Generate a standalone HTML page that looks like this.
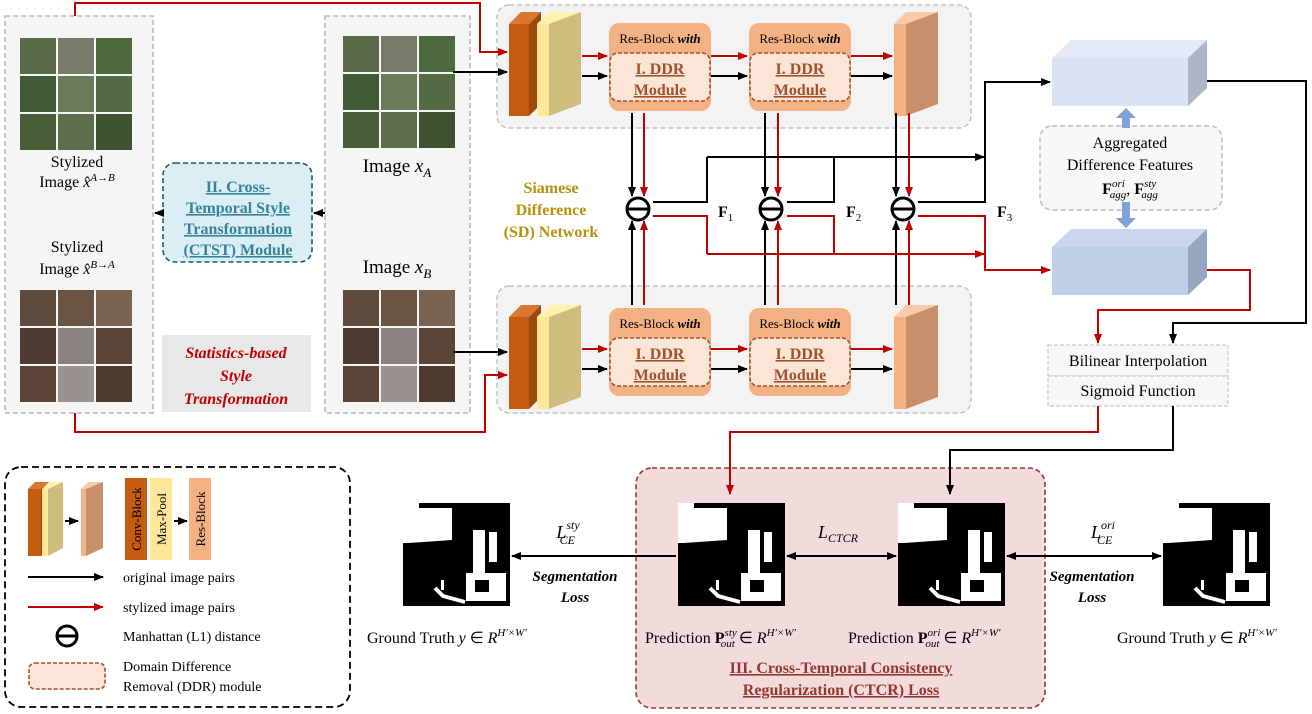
<!DOCTYPE html>
<html><head><meta charset="utf-8"><style>
body{margin:0;background:#fff}
svg{display:block}
text{font-family:"Liberation Serif",serif;}
</style></head><body>
<svg width="1312" height="714" viewBox="0 0 1312 714" xmlns="http://www.w3.org/2000/svg">
<defs>
<marker id="ab" markerWidth="10" markerHeight="10" refX="9" refY="5" orient="auto" markerUnits="userSpaceOnUse"><path d="M0,1 L10,5 L0,9 z" fill="#000"/></marker>
<marker id="ar" markerWidth="10" markerHeight="10" refX="9" refY="5" orient="auto" markerUnits="userSpaceOnUse"><path d="M0,1 L10,5 L0,9 z" fill="#c00000"/></marker>
<marker id="abs" markerWidth="10" markerHeight="10" refX="1" refY="5" orient="auto" markerUnits="userSpaceOnUse"><path d="M10,1 L0,5 L10,9 z" fill="#000"/></marker>
<g id="conv">
<polygon points="0,20 12,8 32,8 20,20" fill="#d9782f"/>
<rect x="0" y="20" width="20" height="92" fill="#c55a11"/>
<polygon points="20,20 32,8 32,100 20,112" fill="#9c4a0e"/>
<polygon points="28,20 40,8 72,8 60,20" fill="#fff2b0"/>
<rect x="28" y="20" width="12" height="92" fill="#ffe699"/>
<polygon points="40,20 72,8 72,100 40,112" fill="#cfbd80"/>
</g>
<g id="slab">
<polygon points="0,20 12,8 44,8 32,20" fill="#f8cbad"/>
<rect x="0" y="20" width="12" height="92" fill="#f4b183"/>
<polygon points="12,20 44,8 44,100 12,112" fill="#c8906a"/>
</g>
<g id="rb">
<rect x="0" y="0" width="102" height="88" rx="10" fill="#f4b183"/>
<rect x="1" y="30" width="100" height="48" rx="8" fill="#fbe5d6" stroke="#a0522d" stroke-width="1.6" stroke-dasharray="4,2"/>
<text x="51" y="20" font-size="13" text-anchor="middle">Res-Block <tspan font-weight="bold" font-style="italic">with</tspan></text>
<text x="51" y="51" font-size="16" font-weight="bold" fill="#a0522d" text-anchor="middle" text-decoration="underline">I. DDR</text>
<text x="51" y="72" font-size="16" font-weight="bold" fill="#a0522d" text-anchor="middle" text-decoration="underline">Module</text>
</g>
<g id="tiles">
<rect x="0" y="0" width="36" height="36" fill="#5b6b4a"/><rect x="38" y="0" width="36" height="36" fill="#7a7a6a"/><rect x="76" y="0" width="36" height="36" fill="#4d6a3e"/>
<rect x="0" y="38" width="36" height="36" fill="#3f5a35"/><rect x="38" y="38" width="36" height="36" fill="#6a7a58"/><rect x="76" y="38" width="36" height="36" fill="#556b45"/>
<rect x="0" y="76" width="36" height="36" fill="#4a5e3a"/><rect x="38" y="76" width="36" height="36" fill="#5f6e4c"/><rect x="76" y="76" width="36" height="36" fill="#3e5230"/>
</g>
<g id="tilesb">
<rect x="0" y="0" width="36" height="36" fill="#5e4a3c"/><rect x="38" y="0" width="36" height="36" fill="#6b5444"/><rect x="76" y="0" width="36" height="36" fill="#7a6350"/>
<rect x="0" y="38" width="36" height="36" fill="#4e3c32"/><rect x="38" y="38" width="36" height="36" fill="#8a8280"/><rect x="76" y="38" width="36" height="36" fill="#5a4538"/>
<rect x="0" y="76" width="36" height="36" fill="#5c4536"/><rect x="38" y="76" width="36" height="36" fill="#9a9290"/><rect x="76" y="76" width="36" height="36" fill="#4e3a2e"/>
</g>
<g id="mask">
<rect x="0" y="3" width="107" height="103" fill="#000"/>
<polygon points="0,3 16,3 16,8 49,8 49,40 6,43 0,43" fill="#fff"/>
<rect x="70" y="30" width="12" height="50" fill="#fff"/>
<rect x="86" y="32" width="8" height="30" fill="#fff"/>
<rect x="63" y="73" width="40" height="28" fill="#fff"/>
<rect x="72" y="80" width="14" height="12" fill="#000"/>
<path d="M32,88 L40,96 L62,102" stroke="#fff" stroke-width="4" fill="none"/>
<rect x="38" y="80" width="3" height="10" fill="#fff"/>
</g>
</defs>

<!-- left panels -->
<rect x="5" y="16" width="148" height="397" fill="#f5f5f5" stroke="#aaa" stroke-dasharray="5,3" stroke-width="1.3"/>
<rect x="325" y="16" width="145" height="397" fill="#f5f5f5" stroke="#aaa" stroke-dasharray="5,3" stroke-width="1.3"/>
<use href="#tiles" x="20" y="38"/>
<use href="#tilesb" x="20" y="290"/>
<use href="#tiles" x="343" y="36"/>
<use href="#tilesb" x="343" y="290"/>
<text x="77" y="167" font-size="16" text-anchor="middle">Stylized</text>
<text x="77" y="187" font-size="16" text-anchor="middle">Image <tspan font-style="italic">x̂</tspan><tspan font-size="11" dy="-6" font-style="italic">A→B</tspan></text>
<text x="77" y="252" font-size="16" text-anchor="middle">Stylized</text>
<text x="77" y="274" font-size="16" text-anchor="middle">Image <tspan font-style="italic">x̂</tspan><tspan font-size="11" dy="-6" font-style="italic">B→A</tspan></text>
<text x="397" y="172" font-size="19" text-anchor="middle">Image <tspan font-style="italic">x</tspan><tspan font-size="13" dy="5" font-style="italic">A</tspan></text>
<text x="397" y="273" font-size="19" text-anchor="middle">Image <tspan font-style="italic">x</tspan><tspan font-size="13" dy="5" font-style="italic">B</tspan></text>
<rect x="163" y="163" width="149" height="99" rx="12" fill="#dbeef3" stroke="#215868" stroke-dasharray="5,3" stroke-width="1.6"/>
<g font-size="16" font-weight="bold" fill="#31849b" text-anchor="middle" text-decoration="underline">
<text x="238" y="192">II. Cross-</text><text x="238" y="213">Temporal Style</text><text x="238" y="234">Transformation</text><text x="238" y="255">(CTST) Module</text></g>
<rect x="162" y="335" width="149" height="77" fill="#e8e8e8"/>
<g font-size="16" font-weight="bold" font-style="italic" fill="#c00000" text-anchor="middle">
<text x="236" y="358">Statistics-based</text><text x="236" y="381">Style</text><text x="236" y="404">Transformation</text></g>
<line x1="325" y1="213" x2="314" y2="213" stroke="#000" stroke-width="2" marker-end="url(#ab)"/>
<line x1="163" y1="213" x2="155" y2="213" stroke="#000" stroke-width="2" marker-end="url(#ab)"/>

<!-- SD panels -->
<rect x="497" y="5" width="474" height="123" rx="12" fill="#f3f3f3" stroke="#bbb" stroke-dasharray="5,3" stroke-width="1.3"/>
<rect x="497" y="286" width="474" height="127" rx="12" fill="#f3f3f3" stroke="#bbb" stroke-dasharray="5,3" stroke-width="1.3"/>

<polyline points="75,16 75,3 480,3 480,52 507,52" fill="none" stroke="#c00000" stroke-width="2" marker-end="url(#ar)"/>
<line x1="453" y1="72" x2="507" y2="72" stroke="#000" stroke-width="2" marker-end="url(#ab)"/>
<polyline points="75,413 75,432 485,432 485,375 507,375" fill="none" stroke="#c00000" stroke-width="2" marker-end="url(#ar)"/>
<line x1="453" y1="352" x2="507" y2="352" stroke="#000" stroke-width="2" marker-end="url(#ab)"/>

<use href="#conv" x="509" y="4"/>
<use href="#conv" x="509" y="297"/>
<use href="#rb" x="609" y="23"/>
<use href="#rb" x="749" y="23"/>
<use href="#rb" x="609" y="308"/>
<use href="#rb" x="749" y="308"/>
<use href="#slab" x="894" y="4"/>
<use href="#slab" x="894" y="297"/>
<g stroke-width="2" fill="none">
<line x1="582" y1="56" x2="607" y2="56" stroke="#c00000" marker-end="url(#ar)"/>
<line x1="582" y1="76" x2="607" y2="76" stroke="#000" marker-end="url(#ab)"/>
<line x1="711" y1="56" x2="747" y2="56" stroke="#c00000" marker-end="url(#ar)"/>
<line x1="711" y1="76" x2="747" y2="76" stroke="#000" marker-end="url(#ab)"/>
<line x1="851" y1="56" x2="892" y2="56" stroke="#c00000" marker-end="url(#ar)"/>
<line x1="851" y1="76" x2="892" y2="76" stroke="#000" marker-end="url(#ab)"/>
<line x1="582" y1="349" x2="607" y2="349" stroke="#c00000" marker-end="url(#ar)"/>
<line x1="582" y1="369" x2="607" y2="369" stroke="#000" marker-end="url(#ab)"/>
<line x1="711" y1="349" x2="747" y2="349" stroke="#c00000" marker-end="url(#ar)"/>
<line x1="711" y1="369" x2="747" y2="369" stroke="#000" marker-end="url(#ab)"/>
<line x1="851" y1="349" x2="892" y2="349" stroke="#c00000" marker-end="url(#ar)"/>
<line x1="851" y1="369" x2="892" y2="369" stroke="#000" marker-end="url(#ab)"/>
</g>
<g stroke-width="2">
<line x1="632" y1="113" x2="632" y2="196" stroke="#000" marker-end="url(#ab)"/>
<line x1="644" y1="113" x2="644" y2="196" stroke="#c00000" marker-end="url(#ar)"/>
<line x1="632" y1="305" x2="632" y2="221" stroke="#000" marker-end="url(#ab)"/>
<line x1="644" y1="305" x2="644" y2="221" stroke="#c00000" marker-end="url(#ar)"/>
<line x1="765" y1="113" x2="765" y2="196" stroke="#000" marker-end="url(#ab)"/>
<line x1="778" y1="113" x2="778" y2="196" stroke="#c00000" marker-end="url(#ar)"/>
<line x1="765" y1="305" x2="765" y2="221" stroke="#000" marker-end="url(#ab)"/>
<line x1="778" y1="305" x2="778" y2="221" stroke="#c00000" marker-end="url(#ar)"/>
<line x1="896" y1="113" x2="896" y2="196" stroke="#000" marker-end="url(#ab)"/>
<line x1="909" y1="113" x2="909" y2="196" stroke="#c00000" marker-end="url(#ar)"/>
<line x1="896" y1="305" x2="896" y2="221" stroke="#000" marker-end="url(#ab)"/>
<line x1="909" y1="305" x2="909" y2="221" stroke="#c00000" marker-end="url(#ar)"/>
</g>
<g fill="#fff" stroke="#000" stroke-width="3">
<circle cx="638" cy="209" r="11"/><circle cx="771" cy="209" r="11"/><circle cx="903" cy="209" r="11"/></g>
<g stroke="#000" stroke-width="3"><line x1="627" y1="209" x2="649" y2="209"/><line x1="760" y1="209" x2="782" y2="209"/><line x1="892" y1="209" x2="914" y2="209"/></g>
<g fill="none" stroke-width="2">
<polyline points="653,202 707,202 707,157" stroke="#000"/>
<polyline points="787,202 834,202 834,157" stroke="#000"/>
<line x1="707" y1="157" x2="984" y2="157" stroke="#000" marker-end="url(#ab)"/>
<polyline points="918,202 985,202 985,82 1050,82" stroke="#000" marker-end="url(#ab)"/>
<polyline points="653,216 707,216 707,254" stroke="#c00000"/>
<polyline points="787,216 834,216 834,254" stroke="#c00000"/>
<line x1="707" y1="254" x2="984" y2="254" stroke="#c00000" marker-end="url(#ar)"/>
<polyline points="918,216 985,216 985,270 1050,270" stroke="#c00000" marker-end="url(#ar)"/>
</g>
<g font-size="16" font-weight="bold">
<text x="718" y="217">F<tspan font-size="11" font-weight="normal" dy="4">1</tspan></text>
<text x="846" y="217">F<tspan font-size="11" font-weight="normal" dy="4">2</tspan></text>
<text x="997" y="217">F<tspan font-size="11" font-weight="normal" dy="4">3</tspan></text>
</g>
<g font-size="16" font-weight="bold" fill="#b8900b" text-anchor="middle">
<text x="551" y="193">Siamese</text><text x="551" y="215">Difference</text><text x="551" y="237">(SD) Network</text></g>

<polygon points="1052,58 1071,40 1207,40 1188,58" fill="#e4eaf5"/>
<rect x="1052" y="58" width="136" height="48" fill="#dae3f3"/>
<polygon points="1188,58 1207,40 1207,88 1188,106" fill="#adb5c6"/>
<polygon points="1052,247 1071,229 1207,229 1188,247" fill="#cad6ec"/>
<rect x="1052" y="247" width="136" height="48" fill="#bfcfe8"/>
<polygon points="1188,247 1207,229 1207,277 1188,295" fill="#97a6c0"/>
<rect x="1040" y="126" width="182" height="84" rx="12" fill="#f7f7f7" stroke="#bbb" stroke-dasharray="5,3" stroke-width="1.5"/>
<polygon points="1126,108 1116,118 1122,118 1122,128 1130,128 1130,118 1136,118" fill="#7fa2d8"/>
<polygon points="1126,228 1116,218 1122,218 1122,202 1130,202 1130,218 1136,218" fill="#7fa2d8"/>
<g font-size="16" text-anchor="middle"><text x="1130" y="148">Aggregated</text><text x="1130" y="170">Difference Features</text>
<text x="1130" y="194"><tspan font-weight="bold">F</tspan><tspan font-size="11" font-style="italic" dy="-7">ori</tspan><tspan font-size="11" font-style="italic" dx="-15" dy="11">agg</tspan><tspan dy="-4">, </tspan><tspan font-weight="bold">F</tspan><tspan font-size="11" font-style="italic" dy="-7">sty</tspan><tspan font-size="11" font-style="italic" dx="-15" dy="11">agg</tspan></text></g>
<polyline points="1207,81 1306,81 1306,323 1173,323 1173,343" fill="none" stroke="#000" stroke-width="2" marker-end="url(#ab)"/>
<polyline points="1207,270 1250,270 1250,310 1098,310 1098,343" fill="none" stroke="#c00000" stroke-width="2" marker-end="url(#ar)"/>
<rect x="1048" y="345" width="180" height="31" fill="#f7f7f7" stroke="#bbb" stroke-dasharray="4,2"/>
<rect x="1048" y="376" width="180" height="30" fill="#f7f7f7" stroke="#bbb" stroke-dasharray="4,2"/>
<text x="1138" y="366" font-size="16" text-anchor="middle">Bilinear Interpolation</text>
<text x="1138" y="396" font-size="16" text-anchor="middle">Sigmoid Function</text>

<rect x="636" y="468" width="409" height="240" rx="16" fill="#f2dcdb" stroke="#943634" stroke-dasharray="5,3" stroke-width="1.6"/>
<polyline points="1098,406 1098,432 730,432 730,494" fill="none" stroke="#c00000" stroke-width="2" marker-end="url(#ar)"/>
<polyline points="1173,406 1173,450 950,450 950,494" fill="none" stroke="#000" stroke-width="2" marker-end="url(#ab)"/>
<g font-size="16" font-weight="bold" fill="#943634" text-anchor="middle" text-decoration="underline">
<text x="841" y="673">III. Cross-Temporal Consistency</text><text x="841" y="695">Regularization (CTCR) Loss</text></g>
<use href="#mask" x="403" y="500"/>
<use href="#mask" x="678" y="500"/>
<use href="#mask" x="898" y="500"/>
<use href="#mask" x="1163" y="500"/>
<g stroke="#000" stroke-width="2">
<line x1="676" y1="556" x2="512" y2="556" marker-end="url(#ab)"/>
<line x1="787" y1="556" x2="896" y2="556" marker-end="url(#ab)" marker-start="url(#abs)"/>
<line x1="1007" y1="556" x2="1161" y2="556" marker-end="url(#ab)" marker-start="url(#abs)"/>
</g>
<g font-size="18" font-style="italic" text-anchor="middle">
<text x="568" y="538">L<tspan font-size="12" dy="-9">sty</tspan><tspan font-size="12" dx="-20" dy="15">CE</tspan></text>
<text x="838" y="538">L<tspan font-size="12" dy="4">CTCR</tspan></text>
<text x="1103" y="538">L<tspan font-size="12" dy="-9">ori</tspan><tspan font-size="12" dx="-18" dy="15">CE</tspan></text>
</g>
<g font-size="15" font-weight="bold" font-style="italic" text-anchor="middle">
<text x="575" y="581">Segmentation</text><text x="575" y="602">Loss</text>
<text x="1092" y="581">Segmentation</text><text x="1092" y="602">Loss</text></g>
<g font-size="16">
<text x="367" y="643">Ground Truth <tspan font-style="italic">y</tspan> ∈ <tspan font-style="italic">R</tspan><tspan font-size="11" font-style="italic" dy="-7">H′×W′</tspan></text>
<text x="645" y="643">Prediction <tspan font-weight="bold">P</tspan><tspan font-size="11" font-style="italic" dy="-7">sty</tspan><tspan font-size="11" font-style="italic" dx="-16" dy="11">out</tspan><tspan dy="-4"> ∈ </tspan><tspan font-style="italic">R</tspan><tspan font-size="11" font-style="italic" dy="-7">H′×W′</tspan></text>
<text x="848" y="643">Prediction <tspan font-weight="bold">P</tspan><tspan font-size="11" font-style="italic" dy="-7">ori</tspan><tspan font-size="11" font-style="italic" dx="-15" dy="11">out</tspan><tspan dy="-4"> ∈ </tspan><tspan font-style="italic">R</tspan><tspan font-size="11" font-style="italic" dy="-7">H′×W′</tspan></text>
<text x="1117" y="643">Ground Truth <tspan font-style="italic">y</tspan> ∈ <tspan font-style="italic">R</tspan><tspan font-size="11" font-style="italic" dy="-7">H′×W′</tspan></text>
</g>

<!-- legend -->
<rect x="5" y="467" width="345" height="240" rx="16" fill="#fff" stroke="#000" stroke-dasharray="7,4" stroke-width="1.8"/>
<polygon points="28,489 35,482 50,482 43,489" fill="#d9782f"/>
<rect x="28" y="489" width="13" height="67" fill="#c55a11"/>
<polygon points="41,489 50,482 50,548 41,556" fill="#9c4a0e"/>
<polygon points="42,489 49,482 63,482 56,489" fill="#fff2b0"/>
<rect x="42" y="489" width="6" height="67" fill="#ffe699"/>
<polygon points="48,489 63,482 63,548 48,556" fill="#cfbd80"/>
<line x1="65" y1="521" x2="78" y2="521" stroke="#000" stroke-width="2" marker-end="url(#ab)"/>
<polygon points="81,489 88,482 103,482 96,489" fill="#f8cbad"/>
<rect x="81" y="489" width="5" height="67" fill="#f4b183"/>
<polygon points="86,489 103,482 103,548 86,556" fill="#c8906a"/>
<rect x="125" y="478" width="22" height="82" fill="#c55a11"/>
<rect x="150" y="478" width="22" height="82" fill="#ffe699"/>
<rect x="189" y="478" width="22" height="82" fill="#f4b183"/>
<line x1="174" y1="521" x2="187" y2="521" stroke="#000" stroke-width="2" marker-end="url(#ab)"/>
<g font-size="13">
<text transform="translate(141,519) rotate(-90)" text-anchor="middle">Conv-Block</text>
<text transform="translate(166,519) rotate(-90)" text-anchor="middle">Max-Pool</text>
<text transform="translate(205,519) rotate(-90)" text-anchor="middle">Res-Block</text>
</g>
<line x1="28" y1="577" x2="103" y2="577" stroke="#000" stroke-width="2" marker-end="url(#ab)"/>
<line x1="28" y1="607" x2="103" y2="607" stroke="#c00000" stroke-width="2" marker-end="url(#ar)"/>
<circle cx="67" cy="636" r="10" fill="#fff" stroke="#000" stroke-width="3"/>
<line x1="57" y1="636" x2="77" y2="636" stroke="#000" stroke-width="3"/>
<rect x="29" y="663" width="76" height="26" rx="6" fill="#fbe5d6" stroke="#a0522d" stroke-dasharray="4,2" stroke-width="1.6"/>
<g font-size="14">
<text x="123" y="582">original image pairs</text>
<text x="123" y="612">stylized image pairs</text>
<text x="123" y="641">Manhattan (L1) distance</text>
<text x="123" y="671">Domain Difference</text>
<text x="123" y="691">Removal (DDR) module</text>
</g>
</svg>
</body></html>
